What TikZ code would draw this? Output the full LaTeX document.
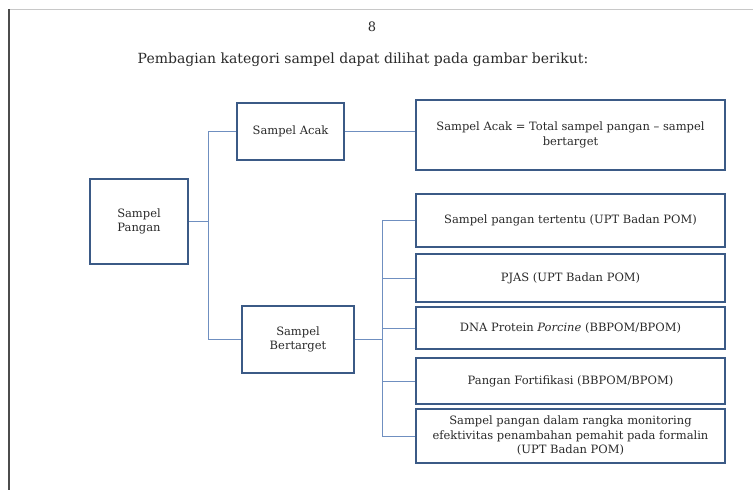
\documentclass[tikz,border=0pt]{standalone}
\usepackage{fontspec}
\setmainfont{DejaVu Serif}
\definecolor{boxc}{HTML}{3B5A86}
\definecolor{linec}{HTML}{6F8FC0}
\definecolor{txt}{HTML}{2A2A2A}
\definecolor{pagec}{HTML}{C8C8C8}
\begin{document}
\begin{tikzpicture}[x=1pt,y=-1pt,
  box/.style={draw=boxc, line width=1.6pt, fill=white, align=center, inner sep=0pt,
    text=txt, font=\fontsize{11.5}{14.5}\selectfont},
  conn/.style={draw=linec, line width=0.8pt}]
\useasboundingbox[fill=white] (0,0) rectangle (753,490);
% page edges
\draw[pagec, line width=1pt] (9,9) -- (753,9);
\draw[black!70, line width=1.6pt] (9,9) -- (9,490);
% header
\node[text=txt, font=\fontsize{13}{15}\selectfont] (pg) at (372,27) {8};
\node[text=txt, font=\fontsize{14}{16}\selectfont] (title) at (363,60) {Pembagian kategori sampel dapat dilihat pada gambar berikut:};
% boxes
\node[box, minimum width=98pt, minimum height=85pt] (pangan) at (139,221.5) {Sampel\\Pangan};
\node[box, minimum width=107pt, minimum height=57pt] (acak) at (290.5,131.5) {Sampel Acak};
\node[box, minimum width=112pt, minimum height=67pt] (bert) at (298,339.5) {Sampel\\Bertarget};
\node[box, minimum width=309pt, minimum height=70pt] (r0) at (570.5,135) {Sampel Acak = Total sampel pangan -- sampel\\bertarget};
\node[box, minimum width=309pt, minimum height=53pt] (r1) at (570.5,220.5) {Sampel pangan tertentu (UPT Badan POM)};
\node[box, minimum width=309pt, minimum height=48pt] (r2) at (570.5,278) {PJAS (UPT Badan POM)};
\node[box, minimum width=309pt, minimum height=42pt] (r3) at (570.5,328) {DNA Protein \textit{Porcine} (BBPOM/BPOM)};
\node[box, minimum width=309pt, minimum height=46pt] (r4) at (570.5,381) {Pangan Fortifikasi (BBPOM/BPOM)};
\node[box, minimum width=309pt, minimum height=54pt] (r5) at (570.5,436) {Sampel pangan dalam rangka monitoring\\efektivitas penambahan pemahit pada formalin\\(UPT Badan POM)};
% connectors
\coordinate (j1) at (208,221.5);
\coordinate (j2) at (382,339.5);
\draw[conn] (pangan.east) -- (j1);
\draw[conn] (j1) |- (acak.west);
\draw[conn] (j1) |- (bert.west);
\draw[conn] (acak.east) -- (acak.east -| r0.west);
\draw[conn] (bert.east) -- (j2);
\foreach \r in {r1,r2,r3,r4,r5} \draw[conn] (j2) |- (\r.west);
\end{tikzpicture}
\end{document}
